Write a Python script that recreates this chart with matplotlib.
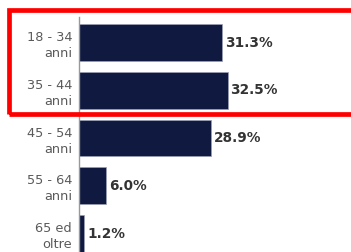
import matplotlib
matplotlib.use("Agg")
import matplotlib.pyplot as plt
from matplotlib.patches import Rectangle

categories = ["18 - 34\nanni", "35 - 44\nanni", "45 - 54\nanni", "55 - 64\nanni", "65 ed\noltre"]
values = [31.3, 32.5, 28.9, 6.0, 1.2]
value_labels = ["31.3%", "32.5%", "28.9%", "6.0%", "1.2%"]

fig = plt.figure(figsize=(3.51, 2.52), dpi=100)
ax = fig.add_axes([79 / 351, 0, 272 / 351, 1 - 17 / 252])

ypos = list(range(len(values)))
ax.barh(ypos, values, height=0.77, color="#101a40", edgecolor="#9a9fb5", linewidth=0.5)

for y, v, lab in zip(ypos, values, value_labels):
    ax.text(v + 0.6, y, lab, va="center", ha="left", fontsize=9.8,
            fontweight="bold", color="#333333")

ax.set_xlim(0, 59.5)
ax.set_ylim(4.387, -0.534)
ax.set_yticks(ypos)
ax.set_yticklabels(categories, fontsize=9.3, color="#5a5a5a", ha="right", linespacing=1.3)
ax.tick_params(axis="y", length=0, pad=5)
ax.set_xticks([])
for s in ["top", "right", "bottom"]:
    ax.spines[s].set_visible(False)
ax.spines["left"].set_color("#999999")
ax.spines["left"].set_linewidth(1)

# red highlight box around the first two rows
fig.patches.append(Rectangle((9 / 351, 1 - 114.5 / 252), 1.1, 104.5 / 252,
                             transform=fig.transFigure, fill=False,
                             edgecolor="#ff0000", linewidth=3.4, clip_on=False))

fig.savefig("out.png", dpi=100)
